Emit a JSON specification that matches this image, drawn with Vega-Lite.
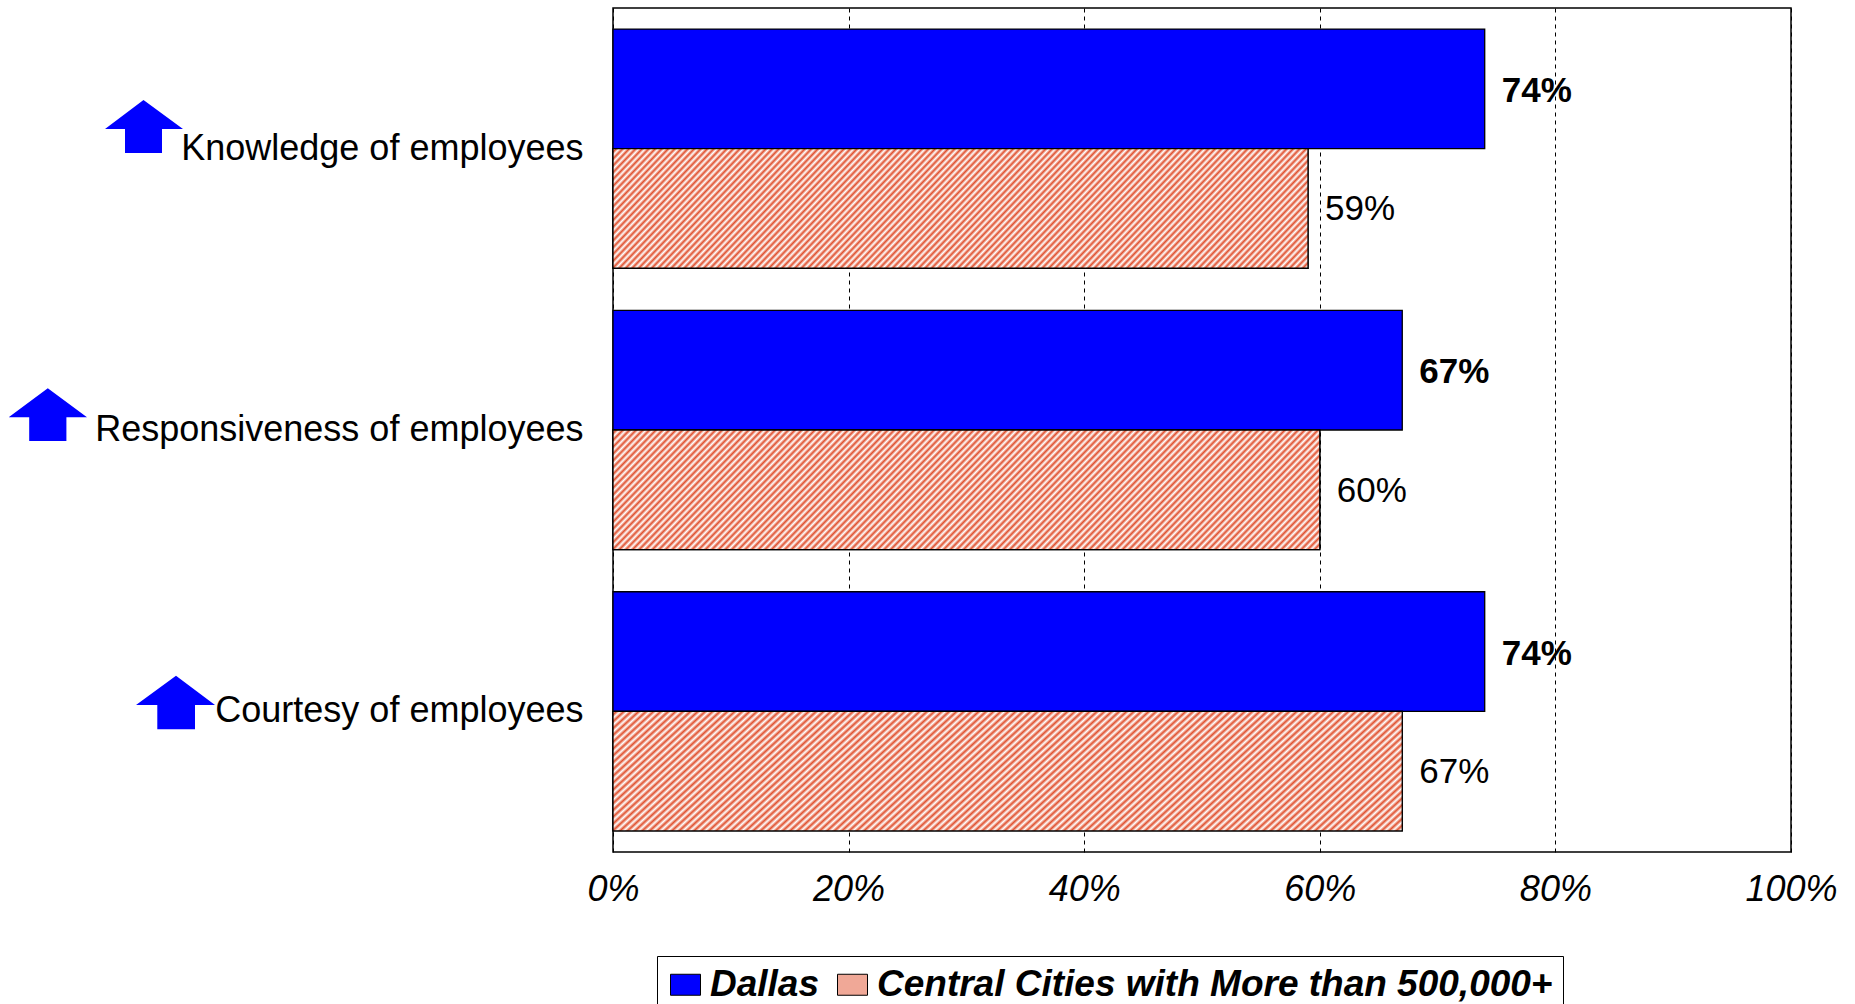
{
  "$schema": "https://vega.github.io/schema/vega-lite/v6.json",
  "autosize": {"type": "none"},
  "padding": {"left": 613, "top": 8, "right": 64, "bottom": 152},
  "width": 1178,
  "height": 844,
  "background": "#ffffff",
  "config": {
    "view": {"stroke": "#000000", "strokeWidth": 1.5},
    "font": "Liberation Sans"
  },
  "data": {
    "values": [
      {"category": "Knowledge of employees", "series": "Dallas", "value": 0.74},
      {"category": "Knowledge of employees", "series": "Central Cities with More than 500,000+", "value": 0.59},
      {"category": "Responsiveness of employees", "series": "Dallas", "value": 0.67},
      {"category": "Responsiveness of employees", "series": "Central Cities with More than 500,000+", "value": 0.60},
      {"category": "Courtesy of employees", "series": "Dallas", "value": 0.74},
      {"category": "Courtesy of employees", "series": "Central Cities with More than 500,000+", "value": 0.67}
    ]
  },
  "layer": [
    {
      "mark": {"type": "bar", "stroke": "#000000", "strokeWidth": 1.3},
      "encoding": {
        "y": {
          "field": "category", "type": "nominal",
          "scale": {"domain": ["Knowledge of employees", "Responsiveness of employees", "Courtesy of employees"], "paddingInner": 0.15, "paddingOuter": 0.075},
          "axis": {"title": null, "labelFont": "Liberation Sans", "labelFontSize": 36, "labelColor": "#000000", "labelPadding": 30, "ticks": false, "tickSize": 0, "domain": false, "labelLimit": 1000}
        },
        "yOffset": {
          "field": "series", "type": "nominal",
          "scale": {"domain": ["Dallas", "Central Cities with More than 500,000+"], "paddingInner": 0, "paddingOuter": 0}
        },
        "x": {
          "field": "value", "type": "quantitative",
          "scale": {"domain": [0, 1], "nice": false, "zero": true},
          "axis": {"title": null, "values": [0, 0.2, 0.4, 0.6, 0.8, 1], "format": ".0%", "labelFont": "Liberation Sans", "labelFontSize": 36, "labelFontStyle": "italic", "labelColor": "#000000", "labelPadding": 20, "labelFlush": false, "ticks": false, "domain": false, "grid": true, "gridColor": "#000000", "gridDash": [4, 4], "gridWidth": 1, "gridOpacity": 1}
        },
        "fill": {
          "field": "series", "type": "nominal",
          "scale": {"domain": ["Dallas", "Central Cities with More than 500,000+"], "range": ["#0000ff", "#f0a897"]},
          "legend": {
            "title": null, "orient": "none", "legendX": 44, "legendY": 948, "direction": "horizontal",
            "labelFont": "Liberation Sans", "labelFontSize": 37, "labelFontWeight": "bold", "labelFontStyle": "italic", "labelColor": "#000000", "labelLimit": 1000,
            "symbolType": "M-1,-0.7H1V0.7H-1Z", "symbolSize": 900, "symbolStrokeColor": "#000000", "symbolStrokeWidth": 1, "symbolOpacity": 1,
            "labelOffset": 6, "columnPadding": 14, "padding": 10, "strokeColor": "#000000", "fillColor": "#ffffff"
          }
        }
      }
    },
    {
      "transform": [{"filter": "datum.series !== 'Dallas'"}],
      "mark": {"type": "bar", "stroke": "#000000", "strokeWidth": 1.3,
        "fill": {"gradient": "linear", "x1": 0, "y1": 0, "x2": 1.14, "y2": 0.1874, "stops": [
{"offset":0,"color":"#fff"},{"offset":0.004,"color":"#e0502e"},{"offset":0.008,"color":"#fff"},{"offset":0.012,"color":"#e0502e"},{"offset":0.016,"color":"#fff"},{"offset":0.02,"color":"#e0502e"},{"offset":0.024,"color":"#fff"},{"offset":0.028,"color":"#e0502e"},{"offset":0.032,"color":"#fff"},{"offset":0.036,"color":"#e0502e"},
{"offset":0.04,"color":"#fff"},{"offset":0.044,"color":"#e0502e"},{"offset":0.048,"color":"#fff"},{"offset":0.052,"color":"#e0502e"},{"offset":0.056,"color":"#fff"},{"offset":0.06,"color":"#e0502e"},{"offset":0.064,"color":"#fff"},{"offset":0.068,"color":"#e0502e"},{"offset":0.072,"color":"#fff"},{"offset":0.076,"color":"#e0502e"},
{"offset":0.08,"color":"#fff"},{"offset":0.084,"color":"#e0502e"},{"offset":0.088,"color":"#fff"},{"offset":0.092,"color":"#e0502e"},{"offset":0.096,"color":"#fff"},{"offset":0.1,"color":"#e0502e"},{"offset":0.104,"color":"#fff"},{"offset":0.108,"color":"#e0502e"},{"offset":0.112,"color":"#fff"},{"offset":0.116,"color":"#e0502e"},
{"offset":0.12,"color":"#fff"},{"offset":0.124,"color":"#e0502e"},{"offset":0.128,"color":"#fff"},{"offset":0.132,"color":"#e0502e"},{"offset":0.136,"color":"#fff"},{"offset":0.14,"color":"#e0502e"},{"offset":0.144,"color":"#fff"},{"offset":0.148,"color":"#e0502e"},{"offset":0.152,"color":"#fff"},{"offset":0.156,"color":"#e0502e"},
{"offset":0.16,"color":"#fff"},{"offset":0.164,"color":"#e0502e"},{"offset":0.168,"color":"#fff"},{"offset":0.172,"color":"#e0502e"},{"offset":0.176,"color":"#fff"},{"offset":0.18,"color":"#e0502e"},{"offset":0.184,"color":"#fff"},{"offset":0.188,"color":"#e0502e"},{"offset":0.192,"color":"#fff"},{"offset":0.196,"color":"#e0502e"},
{"offset":0.2,"color":"#fff"},{"offset":0.204,"color":"#e0502e"},{"offset":0.208,"color":"#fff"},{"offset":0.212,"color":"#e0502e"},{"offset":0.216,"color":"#fff"},{"offset":0.22,"color":"#e0502e"},{"offset":0.224,"color":"#fff"},{"offset":0.228,"color":"#e0502e"},{"offset":0.232,"color":"#fff"},{"offset":0.236,"color":"#e0502e"},
{"offset":0.24,"color":"#fff"},{"offset":0.244,"color":"#e0502e"},{"offset":0.248,"color":"#fff"},{"offset":0.252,"color":"#e0502e"},{"offset":0.256,"color":"#fff"},{"offset":0.26,"color":"#e0502e"},{"offset":0.264,"color":"#fff"},{"offset":0.268,"color":"#e0502e"},{"offset":0.272,"color":"#fff"},{"offset":0.276,"color":"#e0502e"},
{"offset":0.28,"color":"#fff"},{"offset":0.284,"color":"#e0502e"},{"offset":0.288,"color":"#fff"},{"offset":0.292,"color":"#e0502e"},{"offset":0.296,"color":"#fff"},{"offset":0.3,"color":"#e0502e"},{"offset":0.304,"color":"#fff"},{"offset":0.308,"color":"#e0502e"},{"offset":0.312,"color":"#fff"},{"offset":0.316,"color":"#e0502e"},
{"offset":0.32,"color":"#fff"},{"offset":0.324,"color":"#e0502e"},{"offset":0.328,"color":"#fff"},{"offset":0.332,"color":"#e0502e"},{"offset":0.336,"color":"#fff"},{"offset":0.34,"color":"#e0502e"},{"offset":0.344,"color":"#fff"},{"offset":0.348,"color":"#e0502e"},{"offset":0.352,"color":"#fff"},{"offset":0.356,"color":"#e0502e"},
{"offset":0.36,"color":"#fff"},{"offset":0.364,"color":"#e0502e"},{"offset":0.368,"color":"#fff"},{"offset":0.372,"color":"#e0502e"},{"offset":0.376,"color":"#fff"},{"offset":0.38,"color":"#e0502e"},{"offset":0.384,"color":"#fff"},{"offset":0.388,"color":"#e0502e"},{"offset":0.392,"color":"#fff"},{"offset":0.396,"color":"#e0502e"},
{"offset":0.4,"color":"#fff"},{"offset":0.404,"color":"#e0502e"},{"offset":0.408,"color":"#fff"},{"offset":0.412,"color":"#e0502e"},{"offset":0.416,"color":"#fff"},{"offset":0.42,"color":"#e0502e"},{"offset":0.424,"color":"#fff"},{"offset":0.428,"color":"#e0502e"},{"offset":0.432,"color":"#fff"},{"offset":0.436,"color":"#e0502e"},
{"offset":0.44,"color":"#fff"},{"offset":0.444,"color":"#e0502e"},{"offset":0.448,"color":"#fff"},{"offset":0.452,"color":"#e0502e"},{"offset":0.456,"color":"#fff"},{"offset":0.46,"color":"#e0502e"},{"offset":0.464,"color":"#fff"},{"offset":0.468,"color":"#e0502e"},{"offset":0.472,"color":"#fff"},{"offset":0.476,"color":"#e0502e"},
{"offset":0.48,"color":"#fff"},{"offset":0.484,"color":"#e0502e"},{"offset":0.488,"color":"#fff"},{"offset":0.492,"color":"#e0502e"},{"offset":0.496,"color":"#fff"},{"offset":0.5,"color":"#e0502e"},{"offset":0.504,"color":"#fff"},{"offset":0.508,"color":"#e0502e"},{"offset":0.512,"color":"#fff"},{"offset":0.516,"color":"#e0502e"},
{"offset":0.52,"color":"#fff"},{"offset":0.524,"color":"#e0502e"},{"offset":0.528,"color":"#fff"},{"offset":0.532,"color":"#e0502e"},{"offset":0.536,"color":"#fff"},{"offset":0.54,"color":"#e0502e"},{"offset":0.544,"color":"#fff"},{"offset":0.548,"color":"#e0502e"},{"offset":0.552,"color":"#fff"},{"offset":0.556,"color":"#e0502e"},
{"offset":0.56,"color":"#fff"},{"offset":0.564,"color":"#e0502e"},{"offset":0.568,"color":"#fff"},{"offset":0.572,"color":"#e0502e"},{"offset":0.576,"color":"#fff"},{"offset":0.58,"color":"#e0502e"},{"offset":0.584,"color":"#fff"},{"offset":0.588,"color":"#e0502e"},{"offset":0.592,"color":"#fff"},{"offset":0.596,"color":"#e0502e"},
{"offset":0.6,"color":"#fff"},{"offset":0.604,"color":"#e0502e"},{"offset":0.608,"color":"#fff"},{"offset":0.612,"color":"#e0502e"},{"offset":0.616,"color":"#fff"},{"offset":0.62,"color":"#e0502e"},{"offset":0.624,"color":"#fff"},{"offset":0.628,"color":"#e0502e"},{"offset":0.632,"color":"#fff"},{"offset":0.636,"color":"#e0502e"},
{"offset":0.64,"color":"#fff"},{"offset":0.644,"color":"#e0502e"},{"offset":0.648,"color":"#fff"},{"offset":0.652,"color":"#e0502e"},{"offset":0.656,"color":"#fff"},{"offset":0.66,"color":"#e0502e"},{"offset":0.664,"color":"#fff"},{"offset":0.668,"color":"#e0502e"},{"offset":0.672,"color":"#fff"},{"offset":0.676,"color":"#e0502e"},
{"offset":0.68,"color":"#fff"},{"offset":0.684,"color":"#e0502e"},{"offset":0.688,"color":"#fff"},{"offset":0.692,"color":"#e0502e"},{"offset":0.696,"color":"#fff"},{"offset":0.7,"color":"#e0502e"},{"offset":0.704,"color":"#fff"},{"offset":0.708,"color":"#e0502e"},{"offset":0.712,"color":"#fff"},{"offset":0.716,"color":"#e0502e"},
{"offset":0.72,"color":"#fff"},{"offset":0.724,"color":"#e0502e"},{"offset":0.728,"color":"#fff"},{"offset":0.732,"color":"#e0502e"},{"offset":0.736,"color":"#fff"},{"offset":0.74,"color":"#e0502e"},{"offset":0.744,"color":"#fff"},{"offset":0.748,"color":"#e0502e"},{"offset":0.752,"color":"#fff"},{"offset":0.756,"color":"#e0502e"},
{"offset":0.76,"color":"#fff"},{"offset":0.764,"color":"#e0502e"},{"offset":0.768,"color":"#fff"},{"offset":0.772,"color":"#e0502e"},{"offset":0.776,"color":"#fff"},{"offset":0.78,"color":"#e0502e"},{"offset":0.784,"color":"#fff"},{"offset":0.788,"color":"#e0502e"},{"offset":0.792,"color":"#fff"},{"offset":0.796,"color":"#e0502e"},
{"offset":0.8,"color":"#fff"},{"offset":0.804,"color":"#e0502e"},{"offset":0.808,"color":"#fff"},{"offset":0.812,"color":"#e0502e"},{"offset":0.816,"color":"#fff"},{"offset":0.82,"color":"#e0502e"},{"offset":0.824,"color":"#fff"},{"offset":0.828,"color":"#e0502e"},{"offset":0.832,"color":"#fff"},{"offset":0.836,"color":"#e0502e"},
{"offset":0.84,"color":"#fff"},{"offset":0.844,"color":"#e0502e"},{"offset":0.848,"color":"#fff"},{"offset":0.852,"color":"#e0502e"},{"offset":0.856,"color":"#fff"},{"offset":0.86,"color":"#e0502e"},{"offset":0.864,"color":"#fff"},{"offset":0.868,"color":"#e0502e"},{"offset":0.872,"color":"#fff"},{"offset":0.876,"color":"#e0502e"},
{"offset":0.88,"color":"#fff"},{"offset":0.884,"color":"#e0502e"},{"offset":0.888,"color":"#fff"},{"offset":0.892,"color":"#e0502e"},{"offset":0.896,"color":"#fff"},{"offset":0.9,"color":"#e0502e"},{"offset":0.904,"color":"#fff"},{"offset":0.908,"color":"#e0502e"},{"offset":0.912,"color":"#fff"},{"offset":0.916,"color":"#e0502e"},
{"offset":0.92,"color":"#fff"},{"offset":0.924,"color":"#e0502e"},{"offset":0.928,"color":"#fff"},{"offset":0.932,"color":"#e0502e"},{"offset":0.936,"color":"#fff"},{"offset":0.94,"color":"#e0502e"},{"offset":0.944,"color":"#fff"},{"offset":0.948,"color":"#e0502e"},{"offset":0.952,"color":"#fff"},{"offset":0.956,"color":"#e0502e"},
{"offset":0.96,"color":"#fff"},{"offset":0.964,"color":"#e0502e"},{"offset":0.968,"color":"#fff"},{"offset":0.972,"color":"#e0502e"},{"offset":0.976,"color":"#fff"},{"offset":0.98,"color":"#e0502e"},{"offset":0.984,"color":"#fff"},{"offset":0.988,"color":"#e0502e"},{"offset":0.992,"color":"#fff"},{"offset":0.996,"color":"#e0502e"},
{"offset":1,"color":"#fff"}
        ]}
      },
      "encoding": {
        "y": {"field": "category", "type": "nominal"},
        "yOffset": {"field": "series", "type": "nominal"},
        "x": {"field": "value", "type": "quantitative"}
      }
    },
    {
      "transform": [{"filter": "datum.series === 'Dallas'"}],
      "mark": {"type": "text", "align": "left", "baseline": "middle", "dx": 17, "dy": 2, "font": "Liberation Sans", "fontSize": 35, "fontWeight": "bold", "color": "#000000"},
      "encoding": {
        "y": {"field": "category", "type": "nominal"},
        "yOffset": {"field": "series", "type": "nominal"},
        "x": {"field": "value", "type": "quantitative"},
        "text": {"field": "value", "type": "quantitative", "format": ".0%"}
      }
    },
    {
      "transform": [{"filter": "datum.series !== 'Dallas'"}],
      "mark": {"type": "text", "align": "left", "baseline": "middle", "dx": 17, "dy": 1, "font": "Liberation Sans", "fontSize": 35, "color": "#000000"},
      "encoding": {
        "y": {"field": "category", "type": "nominal"},
        "yOffset": {"field": "series", "type": "nominal"},
        "x": {"field": "value", "type": "quantitative"},
        "text": {"field": "value", "type": "quantitative", "format": ".0%"}
      }
    },
    {
      "transform": [{"filter": "datum.series === 'Dallas'"}],
      "mark": {"type": "point", "filled": true, "fill": "#0000ff", "opacity": 1, "fillOpacity": 1, "strokeWidth": 0, "size": 40000},
      "encoding": {
        "y": {"field": "category", "type": "nominal"},
        "x": {"datum": 0},
        "shape": {
          "field": "category", "type": "nominal", "legend": null,
          "scale": {
            "domain": ["Knowledge of employees", "Responsiveness of employees", "Courtesy of employees"],
            "range": [
              "M-4.695,-0.487L-4.3,-0.197L-4.51,-0.197L-4.51,0.043L-4.88,0.043L-4.88,-0.197L-5.08,-0.197Z",
              "M-5.652,-0.417L-5.26,-0.127L-5.466,-0.127L-5.466,0.11L-5.838,0.11L-5.838,-0.127L-6.043,-0.127Z",
              "M-4.37,-0.356L-3.98,-0.063L-4.18,-0.063L-4.18,0.18L-4.557,0.18L-4.557,-0.063L-4.77,-0.063Z"
            ]
          }
        }
      }
    }
  ]
}
